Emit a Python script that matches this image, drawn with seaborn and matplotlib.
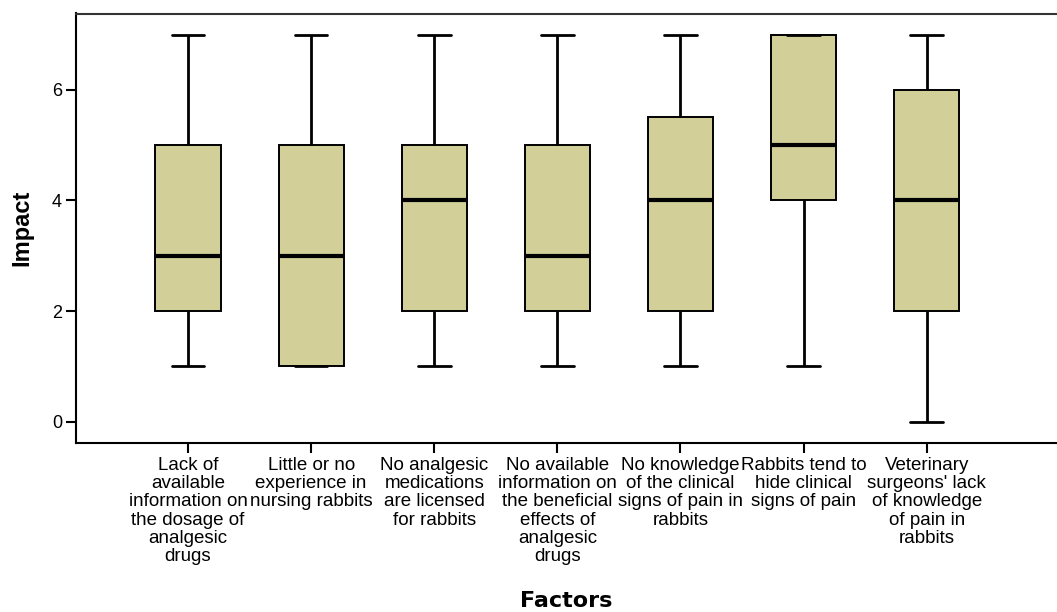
import numpy as np
import pandas as pd
import matplotlib
matplotlib.use("Agg")
import matplotlib.pyplot as plt
import seaborn as sns

# Category labels (line breaks as in the reference)
factors = [
    "Lack of\navailable\ninformation on\nthe dosage of\nanalgesic\ndrugs",
    "Little or no\nexperience in\nnursing rabbits",
    "No analgesic\nmedications\nare licensed\nfor rabbits",
    "No available\ninformation on\nthe beneficial\neffects of\nanalgesic\ndrugs",
    "No knowledge\nof the clinical\nsigns of pain in\nrabbits",
    "Rabbits tend to\nhide clinical\nsigns of pain",
    "Veterinary\nsurgeons' lack\nof knowledge\nof pain in\nrabbits",
]

# Five-number summaries
whisker_low = [1, 1, 1, 1, 1, 1, 0]
q1 = [2, 1, 2, 2, 2, 4, 2]
median = [3, 3, 4, 3, 4, 5, 4]
q3 = [5, 5, 5, 5, 5.5, 7, 6]
whisker_high = [7, 7, 7, 7, 7, 7, 7]

yticks = [0, 2, 4, 6]

rows = []
for f, a, b, c, d, e in zip(factors, whisker_low, q1, median, q3, whisker_high):
    for v in (a, b, c, d, e):
        rows.append({"Factors": f, "Impact": v})
df = pd.DataFrame(rows)

sns.set_theme(style="white")
plt.rcParams["font.family"] = ["Liberation Sans", "DejaVu Sans"]
plt.rcParams["text.color"] = "black"
plt.rcParams["axes.labelcolor"] = "black"
plt.rcParams["xtick.color"] = "black"
plt.rcParams["ytick.color"] = "black"

fig = plt.figure(figsize=(10.57, 6.12), dpi=100)
ax_w = (1056 - 76) / 1057
ax_h = (443 - 13.5) / 612
ax = fig.add_axes([76 / 1057, (612 - 443) / 612, ax_w, ax_h])

sns.boxplot(
    data=df, x="Factors", y="Impact", order=factors, ax=ax,
    color="#D3CF98", saturation=1, width=0.53, whis=1.5,
    linecolor="black", linewidth=1.4, showfliers=False,
    boxprops=dict(edgecolor="black", linewidth=1.4),
    medianprops=dict(color="black", linewidth=3),
    whiskerprops=dict(color="black", linewidth=2),
    capprops=dict(color="black", linewidth=2),
)

ax.set_xlim(-0.91, 7.05)
ax.set_ylim(-0.385, 7.38)
ax.set_yticks(yticks)
ax.set_yticklabels([str(t) for t in yticks], fontsize=13)
ax.set_xticklabels(factors, fontsize=13.5, linespacing=1.1, ha="center", va="top")

ax.tick_params(axis="both", direction="out", length=7, width=1.5, color="black",
               labelcolor="black", bottom=True, left=True, pad=3)
for side in ["left", "bottom", "top"]:
    ax.spines[side].set_color("black")
    ax.spines[side].set_linewidth(1.5)
ax.spines["right"].set_visible(False)
ax.spines["top"].set_color("#333333")

ax.set_ylabel("Impact", fontsize=17, fontweight="bold", ha="center", va="center")
ax.yaxis.set_label_coords(-(76 - 22) / (ax_w * 1057), 0.5)
ax.set_xlabel("Factors", fontsize=16, fontweight="bold", family="DejaVu Sans",
              ha="center", va="center")
ax.xaxis.set_label_coords(0.5, -(601 - 443) / (ax_h * 612))

fig.savefig("out.png", dpi=100)
